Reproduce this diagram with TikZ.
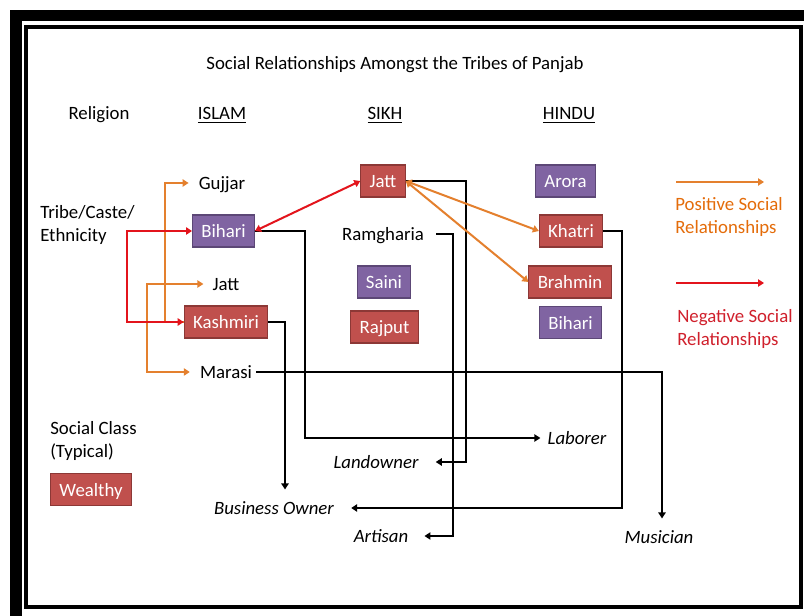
\documentclass[tikz,border=0pt]{standalone}
\usepackage{fontspec}
\setmainfont{Carlito}
\usetikzlibrary{arrows.meta}
\definecolor{bred}{HTML}{C0504D}
\definecolor{bredd}{HTML}{8C3836}
\definecolor{bpur}{HTML}{8064A2}
\definecolor{bpurd}{HTML}{5C4776}
\definecolor{orl}{HTML}{E4802E}
\definecolor{ort}{HTML}{E46C0A}
\definecolor{rdl}{HTML}{E3141C}
\definecolor{rdt}{HTML}{D0202C}
\begin{document}
\begin{tikzpicture}[x=0.75pt,y=-0.75pt,
 >={Triangle[width=5.5pt,length=4.5pt]},
 txt/.style={font=\fontsize{14.1}{16}\selectfont, inner sep=0pt, text height=12.8pt, text depth=2.6pt},
 txttwo/.style={font=\fontsize{14.1}{17.25}\selectfont, inner sep=0pt, align=left, anchor=west},
 box/.style={txt, text=white, minimum height=24pt, inner xsep=6.6pt, line width=0.8pt},
 redbox/.style={box, fill=bred, draw=bredd},
 purbox/.style={box, fill=bpur, draw=bpurd},
 lab/.style={txt, font=\fontsize{14.1}{16}\selectfont\itshape},
 blkline/.style={draw=black, line width=1.75pt},
 posline/.style={draw=orl, line width=1.5pt},
 negline/.style={draw=rdl, line width=1.5pt},
]
\useasboundingbox (0,0) rectangle (804,616);
% frame
\fill[black] (10,10) rectangle (830,640);
\fill[white] (22,21) rectangle (830,640);
\draw[line width=2.6pt] (26,27) rectangle (801,607);

% headings
\node[txt] (title) at (395,63) {Social Relationships Amongst the Tribes of Panjab};
\node[txt] (rel) at (99,113) {Religion};
\node[txt] (islam) at (222,113) {\underline{ISLAM}};
\node[txt] (sikh) at (385,113) {\underline{SIKH}};
\node[txt] (hindu) at (569,113) {\underline{HINDU}};
\node[txttwo] (tce) at (40,224.5) {Tribe/Caste/\\Ethnicity};
\node[txttwo] (soc) at (50,440.5) {Social Class\\(Typical)};
\node[redbox] (wealthy) at (91,489.5) {Wealthy};

% Islam
\node[txt] (gujjar) at (222,183) {Gujjar};
\node[purbox] (bihI) at (223.5,231) {Bihari};
\node[txt] (jattI) at (226,284) {Jatt};
\node[redbox] (kashI) at (226,322) {Kashmiri};
\node[txt] (marasi) at (226,372) {Marasi};

% Sikh
\node[redbox] (jattS) at (383,181) {Jatt};
\node[txt] (ram) at (383,234) {Ramgharia};
\node[purbox] (saini) at (384,282) {Saini};
\node[redbox] (rajput) at (384.5,327) {Rajput};

% Hindu
\node[purbox] (arora) at (565.5,181) {Arora};
\node[redbox] (khatri) at (571,231) {Khatri};
\node[redbox] (brahmin) at (570,282) {Brahmin};
\node[purbox] (bihH) at (570.5,322.5) {Bihari};

% occupations
\node[lab] (land) at (376,462) {Landowner};
\node[lab] (bus) at (274,508) {Business Owner};
\node[lab] (art) at (381,536) {Artisan};
\node[lab] (labr) at (577,438) {Laborer};
\node[lab] (mus) at (659,537) {Musician};

% legend
\coordinate (pa) at (676,182); \coordinate (pb) at (764,182);
\coordinate (na) at (676,283); \coordinate (nb) at (764,283);
\node[txttwo, text=ort] (postxt) at (675,217) {Positive Social\\Relationships};
\node[txttwo, text=rdt] (negtxt) at (677,329) {Negative Social\\Relationships};
\draw[posline,->] (pa) -- (pb);
\draw[negline,->] (na) -- (nb);

% guide coordinates
\coordinate (vOa) at (165,0);
\coordinate (vOb) at (147,0);
\coordinate (vR) at (127,0);
\coordinate (vJ) at (466,0);
\coordinate (vRam) at (453,0);
\coordinate (vB) at (305,0);
\coordinate (vK) at (285,0);
\coordinate (vM) at (662,0);
\coordinate (vKh) at (622,0);

% black connectors
\draw[blkline,->, shorten >=12.75pt] (jattS.east) -| (vJ |- land.east) -- (land.east);
\draw[blkline,->, shorten <=9pt, shorten >=12pt] (ram.east) -| (vRam |- art.east) -- (art.east);
\draw[blkline,->, shorten >=5.25pt] (bihI.east) -| (vB |- labr.west) -- (labr.west);
\draw[blkline,->, shorten >=6pt] (kashI.east) -| (vK |- bus.north);
\draw[blkline,->, shorten <=3pt, shorten >=6pt] (marasi.east) -| (vM |- mus.north);
\draw[blkline,->, shorten >=12.75pt] (khatri.east) -| (vKh |- bus.east) -- (bus.east);

% orange connectors
\draw[posline,->, shorten >=7.5pt] (kashI.west) -| (vOa |- gujjar.west) -- (gujjar.west);
\draw[posline,<->, shorten <=6.75pt, shorten >=7.5pt] (jattI.west) -| (vOb |- marasi.west) -- (marasi.west);
\draw[posline,<->] (jattS.east) -- (khatri.west);
\draw[posline,<->] (jattS.east) -- (brahmin.west);

% red connectors
\draw[negline,<->] (bihI.west) -| (vR |- kashI.west) -- (kashI.west);
\draw[negline,<->] (bihI.east) -- (jattS.west);
\end{tikzpicture}
\end{document}
